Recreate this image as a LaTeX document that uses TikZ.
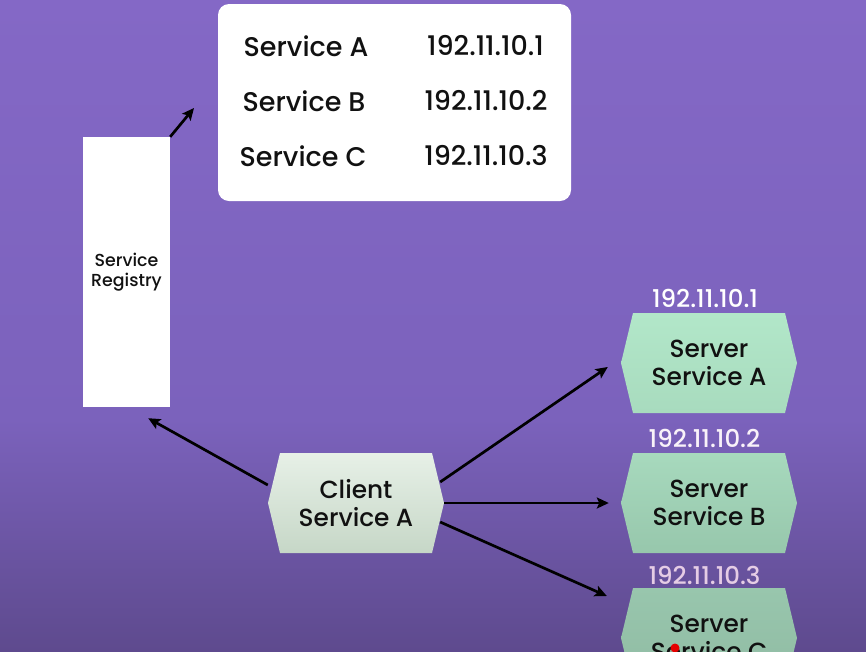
\documentclass[tikz,border=0pt]{standalone}
\usepackage{fontspec}
\setmainfont{Poppins Medium}
\usetikzlibrary{arrows.meta,calc}
\definecolor{bgtop}{HTML}{8468C6}
\definecolor{bgmid}{HTML}{7B62BC}
\definecolor{bgbot}{HTML}{5E4A8E}
\definecolor{ink}{HTML}{111111}
\definecolor{clTop}{HTML}{E7F0E7}
\definecolor{clBot}{HTML}{C6D7C7}
\definecolor{saTop}{HTML}{B2E7C9}
\definecolor{saBot}{HTML}{A8DBBE}
\definecolor{sbTop}{HTML}{A7D9BD}
\definecolor{sbBot}{HTML}{97C7AC}
\definecolor{scTop}{HTML}{98C6AD}
\definecolor{scBot}{HTML}{90BBA3}
\newcommand{\myhex}[6]{%
  \path[shade, top color=#4, bottom color=#5]
    ({#2-88},#3) -- ({#2-76},{#3-50}) -- ({#2+76},{#3-50}) -- ({#2+88},#3)
    -- ({#2+76},{#3+50}) -- ({#2-76},{#3+50}) -- cycle;
  \node[hexbox] (#1) at (#2,#3) {#6};}
\begin{document}
\begin{tikzpicture}[x=1pt,y=-1pt,
  hexbox/.style={minimum width=176pt, minimum height=100pt, inner sep=0pt,
    align=center, text=ink, font=\fontsize{24.8}{28}\selectfont},
  tabtxt/.style={text=ink, inner sep=0pt, font=\fontsize{27}{30}\selectfont},
  iptxt/.style={inner sep=0pt, font=\fontsize{24.5}{26}\selectfont},
  arr/.style={draw=black, line width=2.7pt, -{Stealth[length=12pt,width=11pt,inset=2.5pt]}}]
\useasboundingbox (0,0) rectangle (866,651);
\clip (0,0) rectangle (866,651);
% background
\shade[top color=bgtop, bottom color=bgmid] (0,0) rectangle (866,420);
\shade[top color=bgmid, bottom color=bgbot] (0,419) rectangle (866,651);
% registry
\node[fill=white, minimum width=87pt, minimum height=270pt, inner sep=0pt,
  align=center, text=ink, font=\fontsize{17.4}{19.5}\selectfont] (reg) at (126.5,272) {Service\\Registry};
% table
\node[fill=white, rounded corners=11pt, minimum width=353pt, minimum height=197pt, inner sep=0pt] (tab) at (394.5,102.5) {};
\node[tabtxt] (sa) at (306,46) {Service A};
\node[tabtxt] (sb) at (304,101) {Service B};
\node[tabtxt] (sc) at (303,156) {Service C};
\node[tabtxt] (ia) at (485.5,46) {192.11.10.1};
\node[tabtxt] (ib) at (486,101) {192.11.10.2};
\node[tabtxt] (ic) at (486,156) {192.11.10.3};
% hexagons
\myhex{client}{356}{503}{clTop}{clBot}{Client\\Service A}
\myhex{srvA}{709}{363}{saTop}{saBot}{Server\\Service A}
\myhex{srvB}{709}{503}{sbTop}{sbBot}{Server\\Service B}
\myhex{srvC}{709}{638}{scTop}{scBot}{Server\\Service C}
% ip labels
\node[iptxt, text=white] (ipa) at (705,298) {192.11.10.1};
\node[iptxt, text=white!95!violet] (ipb) at (704.5,438) {192.11.10.2};
\node[iptxt, text=white!80!violet] (ipc) at (704.5,575) {192.11.10.3};
% cursor dot
\fill[red!90!black] (675,648) circle (4.5pt);
% connectors
\coordinate (regtip) at (194,108);
\draw[arr] (reg.north east) -- (regtip);
\draw[arr] ($(client.west)+(0,-18)$) -- ($(reg.south east)+(-22,11)$);
\draw[arr] ($(client.east)+(-4,-21)$) -- ($(srvA.west)+(-13,4)$);
\draw[arr] (client.east) -- ($(srvB.west)+(-12,0)$);
\draw[arr] ($(client.east)+(-4,19)$) -- ($(srvC.west)+(-14,-42)$);
\end{tikzpicture}
\end{document}
